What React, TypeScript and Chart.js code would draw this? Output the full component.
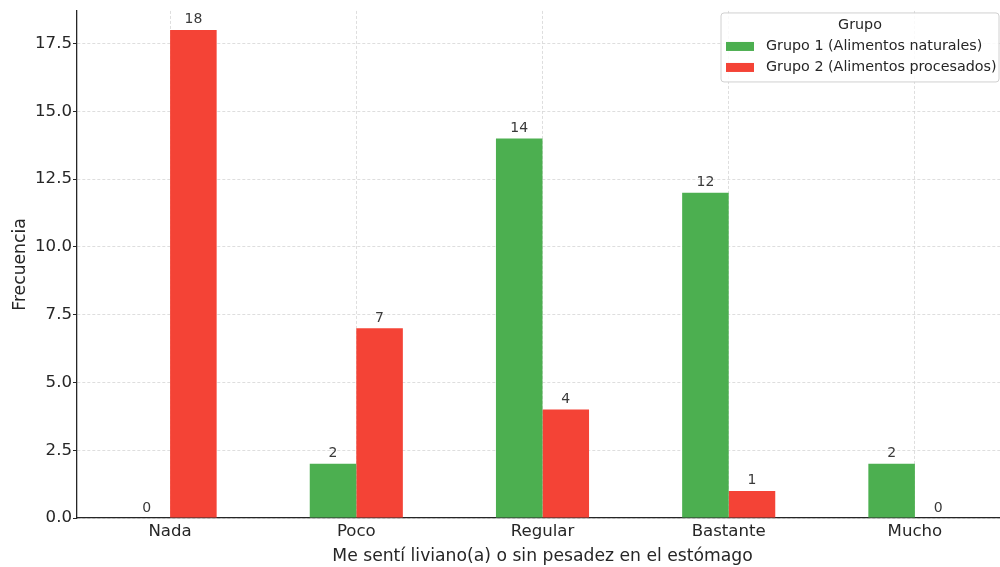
import { useEffect, useRef } from 'react';
import { Chart, registerables } from 'chart.js';
Chart.register(...registerables);

const categories = ['Nada', 'Poco', 'Regular', 'Bastante', 'Mucho'];
const grupo1 = [0, 2, 14, 12, 2];
const grupo2 = [18, 7, 4, 1, 0];
const seriesNames = ['Grupo 1 (Alimentos naturales)', 'Grupo 2 (Alimentos procesados)'];
const seriesColors = ['#4CAF50', '#F44336'];
const yTicks = [0, 2.5, 5, 7.5, 10, 12.5, 15, 17.5];
const yMax = 18.7;
const legendTitle = 'Grupo';
const xTitle = 'Me sentí liviano(a) o sin pesadez en el estómago';
const yTitle = 'Frecuencia';

const FONT = '"DejaVu Sans", sans-serif';
const TEXT = '#262626';

const valueLabels = {
  id: 'valueLabels',
  afterDatasetsDraw(chart: any) {
    const ctx = chart.ctx;
    ctx.save();
    ctx.font = `14px ${FONT}`;
    ctx.fillStyle = '#3a3a3a';
    ctx.textAlign = 'center';
    ctx.textBaseline = 'alphabetic';
    chart.data.datasets.forEach((ds: any, i: number) => {
      const meta = chart.getDatasetMeta(i);
      meta.data.forEach((el: any, j: number) => {
        ctx.fillText(String(ds.data[j]), el.x, el.y - 6.5);
      });
    });
    ctx.restore();
  },
};

const boxLegend = {
  id: 'boxLegend',
  afterDraw(chart: any) {
    const ctx = chart.ctx;
    const ca = chart.chartArea;
    const right = ca.right - 9;
    const left = 721;
    const top = ca.top + 2;
    const h = 69;
    ctx.save();
    ctx.beginPath();
    const r = 3;
    ctx.moveTo(left + r, top);
    ctx.lineTo(right - r, top);
    ctx.quadraticCurveTo(right, top, right, top + r);
    ctx.lineTo(right, top + h - r);
    ctx.quadraticCurveTo(right, top + h, right - r, top + h);
    ctx.lineTo(left + r, top + h);
    ctx.quadraticCurveTo(left, top + h, left, top + h - r);
    ctx.lineTo(left, top + r);
    ctx.quadraticCurveTo(left, top, left + r, top);
    ctx.closePath();
    ctx.fillStyle = 'rgba(255,255,255,0.85)';
    ctx.fill();
    ctx.strokeStyle = '#d0d0d0';
    ctx.lineWidth = 1;
    ctx.stroke();

    ctx.font = `14.3px ${FONT}`;
    ctx.fillStyle = TEXT;
    ctx.textAlign = 'center';
    ctx.textBaseline = 'middle';
    ctx.fillText(legendTitle, (left + right) / 2, top + 12);

    ctx.textAlign = 'left';
    seriesNames.forEach((name, i) => {
      const cy = top + 33.5 + i * 21;
      ctx.fillStyle = seriesColors[i];
      ctx.fillRect(left + 5, cy - 4.5, 28, 9);
      ctx.fillStyle = TEXT;
      ctx.fillText(name, left + 45, cy);
    });
    ctx.restore();
  },
};

export default function App() {
  const ref = useRef<HTMLCanvasElement | null>(null);
  useEffect(() => {
    if (!ref.current) return;
    const chart = new Chart(ref.current, {
      type: 'bar',
      data: {
        labels: categories,
        datasets: [
          { label: seriesNames[0], data: grupo1, backgroundColor: seriesColors[0] },
          { label: seriesNames[1], data: grupo2, backgroundColor: seriesColors[1] },
        ],
      },
      options: {
        responsive: false,
        animation: false,
        devicePixelRatio: 1,
        layout: { padding: { left: 0, right: 2, top: 9, bottom: 0 } },
        datasets: { bar: { categoryPercentage: 0.5, barPercentage: 1.0 } },
        plugins: { legend: { display: false }, tooltip: { enabled: false } },
        scales: {
          x: {
            grid: {
              offset: false,
              color: '#d6d6d6',
              lineWidth: 0.8,
              drawTicks: false,
            },
            border: { display: true, color: '#262626', width: 1.3, dash: [3, 2] },
            ticks: { color: TEXT, font: { family: FONT, size: 16.6 }, padding: 4 },
            title: {
              display: true,
              text: xTitle,
              color: TEXT,
              font: { family: FONT, size: 17.2 },
              padding: { top: 5, bottom: 0 },
            },
            afterFit(scale: any) {
              scale.height = 49;
            },
          },
          y: {
            min: 0,
            max: yMax,
            afterBuildTicks(scale: any) {
              scale.ticks = yTicks.map((v) => ({ value: v }));
            },
            grid: {
              color: '#d6d6d6',
              lineWidth: 0.8,
              drawTicks: true,
              tickLength: 4,
              tickColor: '#262626',
              tickWidth: 1,
            },
            border: { display: true, color: '#262626', width: 1.3, dash: [3, 2] },
            ticks: {
              color: TEXT,
              font: { family: FONT, size: 16.6 },
              padding: 1,
              callback: (v: any) => Number(v).toFixed(1),
            },
            title: {
              display: true,
              text: yTitle,
              color: TEXT,
              font: { family: FONT, size: 17.2 },
              padding: { top: 10, bottom: 0 },
            },
            afterFit(scale: any) {
              scale.width = 77;
            },
          },
        },
      } as any,
      plugins: [valueLabels, boxLegend],
    });
    return () => chart.destroy();
  }, []);
  return (
    <div style={{ position: 'absolute', left: 0, top: 0, width: 1000, height: 567, overflow: 'hidden', background: '#fff' }}>
      <canvas ref={ref} width={1010} height={567} style={{ display: 'block' }} />
    </div>
  );
}
